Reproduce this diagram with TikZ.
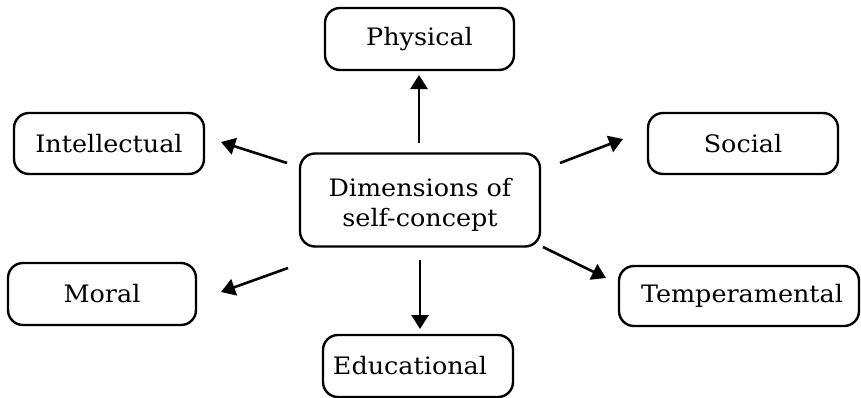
\documentclass[tikz,border=0pt]{standalone}
\usepackage{fontspec}
\setmainfont{DejaVu Serif}[FakeStretch=1.06]
\usetikzlibrary{arrows.meta}
\begin{document}
\begin{tikzpicture}[x=1pt,y=-1pt,
  dimbox/.style={draw, line width=2.4pt, rounded corners=15pt, inner sep=0pt, font=\fontsize{24}{30}\selectfont, align=center},
  arr/.style={line width=2.6pt, -{Triangle[length=14pt,width=17pt]}}]
\useasboundingbox (0,0) rectangle (861,397);
\node[dimbox, minimum width=240pt, minimum height=93pt] (c) at (420,200) {\rule{0pt}{28pt}Dimensions of\\self-concept};
\node[dimbox, minimum width=189pt, minimum height=62pt] (phys) at (419.5,39) {Physical};
\node[dimbox, minimum width=190pt, minimum height=61pt] (int) at (109,143.5) {Intellectual};
\node[dimbox, minimum width=190pt, minimum height=61pt] (soc) at (743,143.5) {Social};
\node[dimbox, minimum width=188pt, minimum height=62pt] (mor) at (102,294) {Moral};
\node[dimbox, minimum width=240pt, minimum height=60pt] (tem) at (739,296) {\kern6pt Temperamental};
\node[dimbox, minimum width=190pt, minimum height=62pt] (edu) at (418,366) {Educational\kern16pt};
\coordinate (s1) at (419,143); \coordinate (t1) at (419,75);
\coordinate (s2) at (420,260); \coordinate (t2) at (420,329);
\coordinate (s3) at (287,163); \coordinate (t3) at (221,142);
\coordinate (s4) at (288,268); \coordinate (t4) at (221,292);
\coordinate (s5) at (560,163); \coordinate (t5) at (623,139);
\coordinate (s6) at (543,247); \coordinate (t6) at (606,278);
\draw[arr] (s1) -- (t1);
\draw[arr] (s2) -- (t2);
\draw[arr] (s3) -- (t3);
\draw[arr] (s4) -- (t4);
\draw[arr] (s5) -- (t5);
\draw[arr] (s6) -- (t6);
\end{tikzpicture}
\end{document}
